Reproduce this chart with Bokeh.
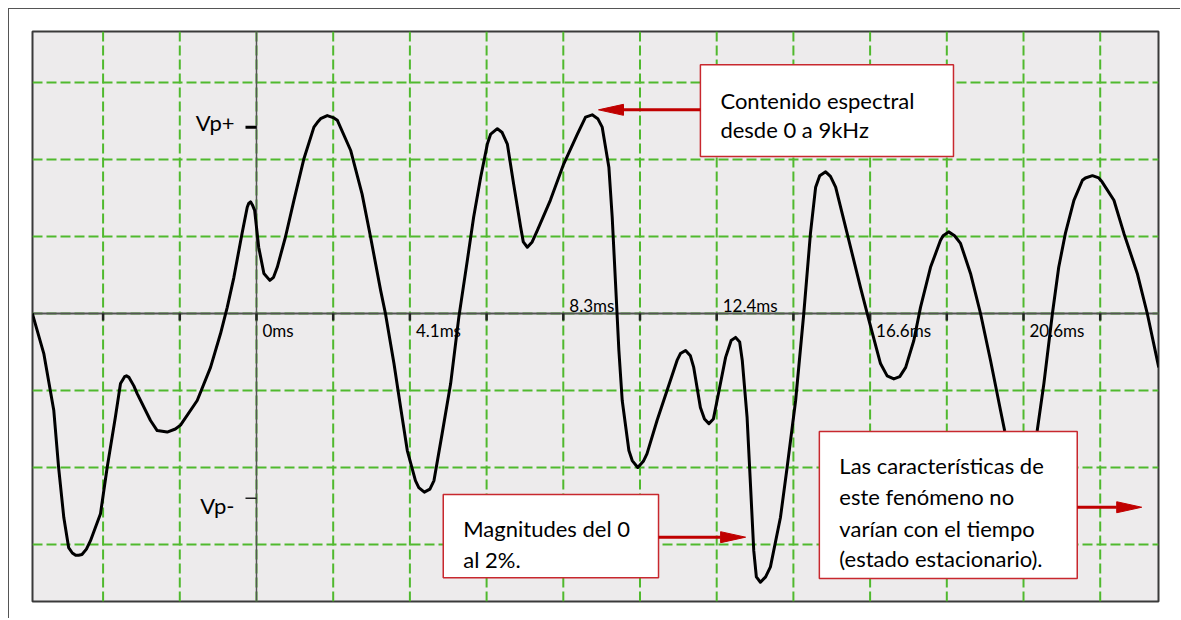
from bokeh.plotting import figure
from bokeh.models import Span, Range1d, ColumnDataSource
from bokeh.core.properties import value
from bokeh.embed import file_html
from bokeh.resources import INLINE

# ---------------- data ----------------
DIV_MS = 2.07  # ms per horizontal division

time_ms = [-6.05, -5.74, -5.47, -5.34, -5.20, -5.07, -4.97, -4.88, -4.80, -4.71,
           -4.59, -4.48, -4.21, -4.03, -3.81, -3.67, -3.62, -3.56, -3.51, -3.44,
           -3.31, -3.22, -2.86, -2.68, -2.41, -2.19, -2.05, -1.60, -1.24, -0.97,
           -0.79, -0.61, -0.39, -0.25, -0.21, -0.16, -0.11, -0.05, 0.06, 0.20,
           0.36, 0.46, 0.56, 0.78, 1.01, 1.28, 1.55, 1.64, 1.73, 1.91,
           2.09, 2.18, 2.54, 2.85, 3.08, 3.35, 3.48, 3.71, 3.89, 4.07,
           4.29, 4.38, 4.53, 4.68, 4.79, 5.01, 5.24, 5.46, 5.69, 5.86,
           6.05, 6.23, 6.32, 6.50, 6.63, 6.77, 6.94, 7.13, 7.20, 7.31,
           7.44, 7.58, 7.93, 8.29, 8.66, 8.88, 9.06, 9.21, 9.33, 9.51,
           9.60, 9.69, 9.78, 9.87, 10.05, 10.14, 10.29, 10.44, 10.54, 10.81,
           11.08, 11.35, 11.44, 11.58, 11.71, 11.80, 11.98, 12.09, 12.21, 12.33,
           12.43, 12.66, 12.81, 12.93, 13.04, 13.11, 13.24, 13.33, 13.42, 13.49,
           13.60, 13.74, 13.87, 14.14, 14.32, 14.55, 14.77, 14.95, 15.09, 15.20,
           15.36, 15.49, 15.63, 15.94, 16.30, 16.53, 16.84, 17.02, 17.20, 17.36,
           17.52, 17.74, 17.92, 18.19, 18.46, 18.53, 18.68, 18.84, 19.00, 19.27,
           19.54, 19.81, 20.08, 20.19, 20.62, 21.07, 21.25, 21.48, 21.65, 21.83,
           22.06, 22.29, 22.37, 22.56, 22.73, 22.82, 23.14, 23.41, 23.77, 24.04,
           24.35]

amplitude = [0.00, -0.52, -1.26, -2.00, -2.65, -3.04, -3.11, -3.14, -3.14, -3.13,
             -3.06, -2.95, -2.60, -2.00, -1.35, -0.91, -0.87, -0.82, -0.81, -0.83,
             -0.94, -1.04, -1.39, -1.52, -1.54, -1.50, -1.45, -1.13, -0.70, -0.26,
             0.08, 0.47, 1.04, 1.38, 1.43, 1.45, 1.41, 1.34, 0.86, 0.52,
             0.43, 0.47, 0.60, 0.99, 1.47, 2.01, 2.42, 2.48, 2.53, 2.57,
             2.54, 2.51, 2.12, 1.55, 0.99, 0.30, 0.00, -0.65, -1.22, -1.78,
             -2.17, -2.26, -2.32, -2.28, -2.17, -1.56, -0.91, -0.05, 0.69, 1.25,
             1.77, 2.20, 2.33, 2.40, 2.35, 2.20, 1.68, 1.12, 0.93, 0.86,
             0.93, 1.08, 1.47, 1.94, 2.33, 2.55, 2.58, 2.53, 2.42, 1.90,
             1.25, 0.39, -0.48, -1.13, -1.78, -1.91, -2.00, -1.92, -1.82, -1.39,
             -1.00, -0.61, -0.52, -0.48, -0.55, -0.70, -1.22, -1.37, -1.43, -1.37,
             -1.13, -0.57, -0.35, -0.31, -0.37, -0.61, -1.35, -2.21, -3.08, -3.42,
             -3.49, -3.42, -3.29, -2.65, -2.00, -1.13, 0.00, 1.04, 1.64, 1.79,
             1.84, 1.78, 1.64, 1.04, 0.34, -0.09, -0.65, -0.81, -0.85, -0.82,
             -0.70, -0.35, 0.08, 0.60, 0.95, 1.01, 1.06, 1.01, 0.91, 0.52,
             0.00, -0.61, -1.26, -1.52, -2.30, -1.52, -0.91, 0.00, 0.60, 1.04,
             1.47, 1.73, 1.76, 1.79, 1.76, 1.71, 1.47, 1.04, 0.52, 0.00,
             -0.70]

grid_x_div = list(range(-2, 12))
grid_y_div = list(range(-3, 4))

tick_label_div = [0, 2, 4, 6, 8, 10]
tick_labels = ["0ms", "4.1ms", "8.3ms", "12.4ms", "16.6ms", "20.6ms"]
tick_label_above = [False, False, True, True, False, False]

VP_POS = 2.42
VP_NEG = -2.40

notes = [
    dict(lines=["Contenido espectral", "desde 0 a 9kHz"],
         left=11.98, right=18.81, top=3.23, bottom=2.04,
         baselines=[36, 65], arrow_y=2.645, arrow_from=11.98, arrow_to=9.23),
    dict(lines=["Magnitudes del 0", "al 2%."],
         left=5.04, right=10.85, top=-2.35, bottom=-3.43,
         baselines=[34, 65.5], arrow_y=-2.905, arrow_from=10.85, arrow_to=13.20),
    dict(lines=["Las características de", "este fenómeno no",
                "varían con el tiempo", "(estado estacionario)."],
         left=15.19, right=22.15, top=-1.532, bottom=-3.44,
         baselines=[34, 65, 97, 127.3], arrow_y=-2.516, arrow_from=22.15, arrow_to=23.89),
]

# ---------------- styling ----------------
FONT = "Lato"
GRID_COLOR = "#50B92E"
RED = "#C00000"
BOX_RED = "#C8282E"
PX_X = DIV_MS / 76.7   # ms per pixel
PX_Y = 1 / 77.0        # division per pixel

p = figure(width=1172, height=610, output_backend="svg", toolbar_location=None,
           x_axis_type=None, y_axis_type=None,
           x_range=Range1d(-6.045, 24.343), y_range=Range1d(-3.740, 3.662),
           min_border_left=23, min_border_top=22, min_border_right=23,
           min_border_bottom=18)
p.background_fill_color = "#EDEBEC"
p.border_fill_color = "white"
p.outline_line_color = "#3a3a3a"
p.outline_line_width = 2
p.styles = {"margin-left": "8px", "margin-top": "8px",
            "border-top": "1px solid #555555", "border-left": "1px solid #555555"}

for k in grid_x_div:
    p.add_layout(Span(location=k * DIV_MS, dimension="height", line_color=GRID_COLOR,
                      line_width=2, line_dash="10 4", level="underlay"))
for k in grid_y_div:
    p.add_layout(Span(location=k, dimension="width", line_color=GRID_COLOR,
                      line_width=2, line_dash="10 4", level="underlay"))

# axes
p.add_layout(Span(location=0, dimension="width", line_color="#555555",
                  line_width=2, level="underlay"))
p.add_layout(Span(location=0, dimension="height", line_color="#555555",
                  line_width=1.5, level="underlay"))

# ticks on the time axis
tx = [k * DIV_MS for k in grid_x_div]
p.segment(x0=tx, x1=tx, y0=[0] * len(tx), y1=[-7 * PX_Y] * len(tx),
          line_color="#222222", line_width=2.5)

# Vp ticks
p.segment(x0=[-11 * PX_X], x1=[0], y0=[VP_POS], y1=[VP_POS], line_color="black", line_width=3)
p.segment(x0=[-11 * PX_X], x1=[0], y0=[VP_NEG], y1=[VP_NEG], line_color="#222222", line_width=1.5)

# waveform
src = ColumnDataSource(dict(t=time_ms, v=amplitude))
p.line("t", "v", source=src, line_color="black", line_width=3, line_join="round")

# tick labels
lab = ColumnDataSource(dict(
    x=[k * DIV_MS for k in tick_label_div], y=[0] * len(tick_labels), text=tick_labels,
    yo=[-8 if a else 17 for a in tick_label_above]))
p.text("x", "y", text="text", source=lab, x_offset=6, y_offset="yo",
       text_font=value(FONT), text_font_size="17px", text_color="black",
       text_baseline="alphabetic", text_align="left")

# Vp labels
p.text(x=[0, 0], y=[VP_POS, VP_NEG], text=["Vp+", "Vp-"], x_offset=-22, y_offset=[-5, 7],
       text_font=value(FONT), text_font_size="22px", text_color="black",
       text_baseline="alphabetic", text_align="right")

# annotation boxes with arrows
HEAD_LEN = 25 * PX_X
HEAD_HALF = 5.5 * PX_Y
for n in notes:
    p.quad(left=[n["left"]], right=[n["right"]], top=[n["top"]], bottom=[n["bottom"]],
           fill_color="white", line_color=BOX_RED, line_width=1.5)
    m = len(n["lines"])
    p.text(x=[n["left"]] * m, y=[n["top"]] * m, text=n["lines"], x_offset=20,
           y_offset=n["baselines"], text_font=value(FONT), text_font_size="22px",
           text_color="black", text_baseline="alphabetic", text_align="left")
    d = 1 if n["arrow_to"] > n["arrow_from"] else -1
    base = n["arrow_to"] - d * HEAD_LEN
    p.segment(x0=[n["arrow_from"]], x1=[base], y0=[n["arrow_y"]], y1=[n["arrow_y"]],
              line_color=RED, line_width=3)
    p.patch(x=[n["arrow_to"], base, base], y=[n["arrow_y"], n["arrow_y"] + HEAD_HALF,
                                             n["arrow_y"] - HEAD_HALF],
            fill_color=RED, line_color=RED, line_width=1)

open("out.html", "w").write(file_html(p, INLINE))
